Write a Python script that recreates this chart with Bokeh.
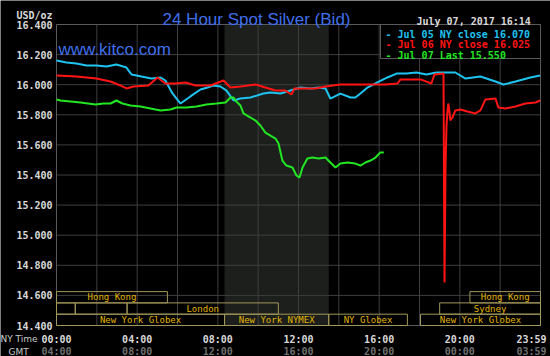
from bokeh.plotting import figure
from bokeh.models import Range1d, Label
from bokeh.core.properties import value
from bokeh.embed import file_html
from bokeh.resources import INLINE

# ---------------- data ----------------
# Jul 05 (cyan)
jul05_h = [0.00, 0.50, 0.99, 1.49, 1.98, 2.48, 2.97, 3.47, 3.72, 4.21, 4.71, 5.16, 5.40, 5.75,
           6.15, 6.64, 7.14, 7.49, 7.78, 8.13, 8.43, 8.78, 9.12, 9.62, 10.26, 10.61, 11.11,
           11.60, 12.10, 12.59, 12.99, 13.34, 13.58, 14.08, 14.58, 14.82, 15.07, 15.42, 15.91,
           16.41, 16.86, 17.35, 17.85, 18.34, 18.84, 19.34, 19.78, 20.28, 21.02, 21.77, 22.16,
           22.76, 23.50, 23.98]
jul05_v = [16.161, 16.147, 16.141, 16.128, 16.128, 16.121, 16.134, 16.114, 16.068, 16.054,
           16.041, 16.048, 16.028, 15.942, 15.875, 15.922, 15.968, 15.981, 15.995, 15.988,
           15.961, 15.895, 15.908, 15.915, 15.941, 15.948, 15.941, 15.961, 15.981, 15.975,
           15.981, 15.975, 15.908, 15.941, 15.915, 15.915, 15.941, 15.981, 16.015, 16.048,
           16.074, 16.074, 16.081, 16.068, 16.081, 16.081, 16.081, 16.041, 16.054, 16.021,
           16.001, 16.021, 16.048, 16.061]
# Jul 06 (red)
jul06_h = [0.00, 0.99, 1.98, 2.68, 3.17, 3.47, 3.82, 4.56, 5.01, 5.40, 5.90, 6.40, 6.89, 7.64,
           8.28, 8.63, 9.12, 9.87, 10.36, 10.86, 11.35, 11.65, 11.80, 12.84, 13.34, 14.08,
           14.82, 15.57, 16.31, 16.91, 17.06, 18.05, 18.59, 18.74, 19.19, 19.24, 19.29, 19.34,
           19.39, 19.43, 19.48, 19.53, 19.63, 19.78, 20.03, 20.38, 20.77, 21.02, 21.27, 21.77,
           21.91, 22.26, 22.76, 23.25, 23.75, 23.98]
jul06_v = [16.061, 16.054, 16.041, 16.021, 15.995, 15.975, 15.988, 15.995, 16.048, 16.008,
           16.008, 16.015, 15.995, 15.995, 16.028, 15.981, 15.988, 16.001, 15.981, 15.961,
           15.961, 15.935, 15.975, 15.975, 15.988, 16.001, 16.001, 16.001, 16.001, 16.008,
           16.035, 16.035, 16.008, 16.068, 16.074, 14.686, 15.463, 15.729, 15.829, 15.875,
           15.829, 15.762, 15.782, 15.829, 15.835, 15.822, 15.809, 15.829, 15.902, 15.908,
           15.848, 15.842, 15.855, 15.875, 15.882, 15.895]
# Jul 07 (green)
jul07_h = [0.00, 0.20, 1.19, 1.93, 2.33, 2.68, 2.97, 3.27, 3.67, 4.16, 4.66, 5.16, 5.65, 5.95,
           6.45, 6.94, 7.44, 7.93, 8.38, 8.63, 8.78, 8.87, 9.12, 9.27, 9.62, 9.87, 10.11,
           10.36, 10.61, 10.86, 11.01, 11.20, 11.40, 11.70, 11.90, 12.05, 12.20, 12.44, 12.69,
           12.99, 13.34, 13.58, 13.83, 14.08, 14.43, 14.82, 15.07, 15.32, 15.57, 15.82, 16.06,
           16.23]
jul07_v = [15.902, 15.895, 15.882, 15.868, 15.875, 15.875, 15.895, 15.875, 15.862, 15.855,
           15.842, 15.829, 15.835, 15.848, 15.848, 15.855, 15.868, 15.875, 15.882, 15.915,
           15.915, 15.895, 15.862, 15.809, 15.782, 15.762, 15.729, 15.682, 15.662, 15.642,
           15.609, 15.496, 15.463, 15.450, 15.397, 15.383, 15.450, 15.510, 15.516, 15.510,
           15.516, 15.483, 15.450, 15.476, 15.483, 15.476, 15.463, 15.483, 15.496, 15.516,
           15.550, 15.550]

series_names = ["Jul 05 NY close", "Jul 06 NY close", "Jul 07 Last"]
series_close = [16.070, 16.025, 15.550]
series_colors = ["#1ec3f0", "#ff1414", "#22e622"]

y_ticks = [14.4, 14.6, 14.8, 15.0, 15.2, 15.4, 15.6, 15.8, 16.0, 16.2, 16.4]
x_grid = [0, 2, 4, 6, 8, 10, 12, 14, 16, 18, 20, 22, 24]
ny_ticks = [0, 4, 8, 12, 16, 20, 24]
ny_labels = ["00:00", "04:00", "08:00", "12:00", "16:00", "20:00", "23:59"]
gmt_labels = ["04:00", "08:00", "12:00", "16:00", "20:00", "00:00", "03:59"]

comex_start, comex_end = 8.333, 13.5

sess_names = ["Hong Kong", "", "", "London", "New York Globex", "New York NYMEX",
              "NY Globex", "New York Globex", "Sydney", "Hong Kong"]
sess_start = [0.0, 0.0, 0.93, 3.5, 0.0, 8.333, 13.5, 18.05, 19.0, 20.5]
sess_end = [5.5, 0.93, 3.5, 11.0, 8.333, 13.5, 17.4, 24.0, 24.0, 24.0]
sess_row = [2, 1, 1, 1, 0, 0, 0, 0, 1, 2]

# ---------------- layout constants (pixels) ----------------
W, H = 550, 356
PL, PR, PT, PB = 56, 540, 24, 325          # plot-area edges on the canvas
X_MIN, X_MAX = 0.0, 24.0
Y_MIN, Y_MAX = 14.4, 16.4
xs = (PR - PL) / (X_MAX - X_MIN)           # px per hour
ys = (PB - PT) / (Y_MAX - Y_MIN)           # px per USD
ROW = 11.3                                 # session row height, px

p = figure(width=W, height=H, output_backend="svg", toolbar_location=None,
           x_range=Range1d(X_MIN - PL / xs, X_MAX + (W - PR) / xs),
           y_range=Range1d(Y_MIN - (H - PB) / ys, Y_MAX + PT / ys),
           min_border=0, background_fill_color="black", border_fill_color="black",
           outline_line_color=None)
p.axis.visible = False
p.grid.visible = False
p.extra_y_ranges = {"sess": Range1d(-(H - PB) / ROW, (H - PB + PB - PT + PT) / ROW - (H - PB) / ROW)}

# COMEX session shading
p.quad(left=[comex_start], right=[comex_end], bottom=[Y_MIN], top=[Y_MAX],
       fill_color="#1d1f1d", line_color=None)

# grid
GRID = "#3e3e3e"
p.segment(x0=x_grid, x1=x_grid, y0=[Y_MIN] * len(x_grid), y1=[Y_MAX] * len(x_grid),
          line_color=GRID, line_width=1)
p.segment(x0=[X_MIN] * len(y_ticks), x1=[X_MAX] * len(y_ticks), y0=y_ticks, y1=y_ticks,
          line_color=GRID, line_width=1)
p.quad(left=[X_MIN], right=[X_MAX], bottom=[Y_MIN], top=[Y_MAX], fill_color=None,
       line_color="#5a5a5a", line_width=1)

# session boxes
p.quad(left=sess_start, right=sess_end, bottom=sess_row, top=[r + 1 for r in sess_row],
       y_range_name="sess", fill_color=None, line_color="#a0975a", line_width=1)
p.text(x=[(a + b) / 2 for a, b in zip(sess_start, sess_end)], y=[r + 0.5 for r in sess_row],
       text=sess_names, y_range_name="sess", text_font=value("DejaVu Sans Mono"),
       text_font_size="9px", text_color="#e0b400", text_align="center",
       text_baseline="middle")

# price lines
for hs, vs, c in zip([jul05_h, jul06_h, jul07_h], [jul05_v, jul06_v, jul07_v], series_colors):
    p.line(hs, vs, line_color=c, line_width=2)

# legend box
leg_left = X_MIN + (380 - PL) / xs
leg_bottom = Y_MAX - (58 - PT) / ys
p.quad(left=[leg_left], right=[X_MAX], bottom=[leg_bottom], top=[Y_MAX],
       fill_color="black", line_color="#5a5a5a", line_width=1)


def lab(px, py, text, **kw):
    """Label placed at canvas pixel (px from left, py from top)."""
    opts = dict(text_font="DejaVu Sans Mono", text_font_style="bold", text_font_size="10px",
                text_color="#d8d8d8", text_baseline="alphabetic", text_align="left")
    opts.update(kw)
    p.add_layout(Label(x=px, y=H - py, x_units="screen", y_units="screen", text=text, **opts))


for i, (n, cl, c) in enumerate(zip(series_names, series_close, series_colors)):
    lab(385, 33.5 + i * 10.7, f"- {n} {cl:.3f}", text_color=c)

# y tick labels
for t in y_ticks:
    p.add_layout(Label(x=52, y=t, x_units="screen", y_units="data", text=f"{t:.3f}",
                       text_font="DejaVu Sans Mono", text_font_style="bold",
                       text_font_size="10px", text_color="#d8d8d8", text_align="right",
                       text_baseline="middle"))

# x tick labels (NY time and GMT)
for h, a, b in zip(ny_ticks, ny_labels, gmt_labels):
    off = -9 if h == 24 else 0
    for txt, py, col in ((a, 338.5, "#d8d8d8"), (b, 351, "#6e6e6e")):
        p.add_layout(Label(x=h, y=H - py, x_units="data", y_units="screen", x_offset=off,
                           text=txt, text_font="DejaVu Sans Mono", text_font_style="bold",
                           text_font_size="10px", text_color=col, text_align="center",
                           text_baseline="alphabetic"))

lab(256, 19, "24 Hour Spot Silver (Bid)", text_font="Liberation Sans", text_font_style="normal",
    text_font_size="17px", text_color="#3f6fea", text_align="center")
lab(58, 49, "www.kitco.com", text_font="Liberation Sans", text_font_style="normal",
    text_font_size="17px", text_color="#3f6fea")
lab(16, 15, "USD/oz")
lab(416, 20.5, "July 07, 2017 16:14")
lab(0, 338, "NY Time", text_font="DejaVu Sans", text_font_style="normal",
    text_font_size="9px", text_color="#c8c8c8")
lab(8, 351, "GMT", text_font="DejaVu Sans", text_font_style="normal",
    text_font_size="9px", text_color="#c8c8c8")

open("out.html", "w").write(file_html(p, INLINE))
